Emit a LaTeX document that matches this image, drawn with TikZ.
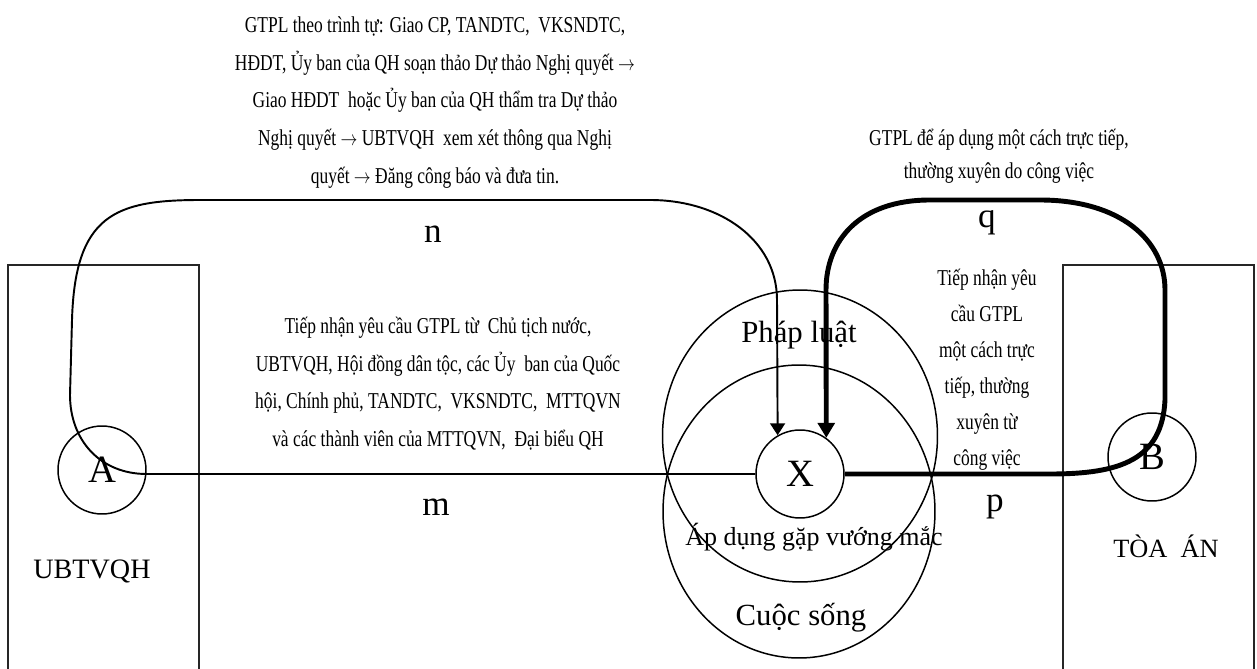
\documentclass[tikz,border=0pt]{standalone}
\usepackage{fontspec}
\setmainfont{Liberation Serif}
\newfontfamily\narrowfont[FakeStretch=0.77]{Liberation Serif}
\usetikzlibrary{shapes.geometric,arrows.meta}
\newcommand\notestrut{\rule{0pt}{12.9pt}}
\newcommand\nextstep{\scalebox{0.8}[1]{$\rightarrow$}}
\tikzset{
  ring/.style={circle, draw, line width=0.85pt, minimum size=1.76cm, inner sep=0pt,
    font=\fontsize{22}{24}\selectfont},
  oval/.style={ellipse, draw, line width=0.85pt, inner sep=0pt},
  frame/.style={draw=black!85, line width=1pt},
  link/.style={line width=1.1pt, -{Triangle[length=6.8pt,width=8.5pt]}},
  boldlink/.style={line width=2.8pt, -{Triangle[length=8.5pt,width=9.5pt]}},
  note/.style={align=center, anchor=north, inner sep=0pt,
    font=\narrowfont\fontsize{12.9}{21.5}\selectfont},
  word/.style={anchor=base, inner sep=0pt},
}
\begin{document}
\begin{tikzpicture}[x=0.02cm, y=-0.02cm]
\useasboundingbox (0,0) rectangle (1257,669);

% the two institutions
\draw[frame] (8,672) -- (8,265) -- (199,265) -- (199,672);
\draw[frame] (1063,672) -- (1063,265) -- (1254,265) -- (1254,672);
\node[word, font=\fontsize{16}{18}\selectfont] (ubt) at (92,578) {UBTVQH};
\node[word, font=\fontsize{15}{18}\selectfont] (toa) at (1166,557) {TÒA\ \ ÁN};

% law and life
\node[oval, minimum width=5.5cm, minimum height=5.84cm] (law) at (800,436) {};
\node[oval, minimum width=5.44cm, minimum height=5.86cm] (life) at (799,511.5) {};
\node[word, font=\fontsize{17.5}{20}\selectfont] (lawtxt) at (799,342) {Pháp luật};
\node[word, font=\fontsize{17.5}{20}\selectfont] (lifetxt) at (801,625) {Cuộc sống};
\node[word, font=\fontsize{14.8}{17}\selectfont] (snag) at (814,545) {Áp dụng gặp vướng mắc};

% actors
\node[ring] (A) at (102,470) {A};
\node[ring] (B) at (1152,457) {B};
\node[ring] (X) at (800,474) {X};

% route m / n from the standing committee
\draw[link] (X.west) -- (X.west -| A.east)
  .. controls (100,474) and (70,440) .. (70,395)
  -- (72,320)
  .. controls (75,215) and (115,200) .. (200,200)
  -- (650,200)
  .. controls (720,200) and (777,240) .. (777,300)
  -- (X.120);

% route p / q from the court
\coordinate (pq) at (1050,474);
\draw[boldlink] (X.east) -- (pq)
  .. controls (1120,474) and (1162,460) .. (1165,400)
  -- (1165,290)
  .. controls (1165,240) and (1120,200) .. (1040,200)
  -- (930,200)
  .. controls (860,200) and (826,240) .. (826,290)
  -- (X.54);

% route letters
\node[word, font=\fontsize{20}{22}\selectfont] (n) at (433,242) {n};
\node[word, font=\fontsize{20}{22}\selectfont] (m) at (436,515) {m};
\node[word, font=\fontsize{20}{22}\selectfont] (q) at (987,227) {q};
\node[word, font=\fontsize{20}{22}\selectfont] (p) at (995,511) {p};

% explanations
\node[note] (ntxt) at (435,9.3) {\notestrut GTPL theo trình tự: Giao CP, TANDTC,\ \ VKSNDTC,\\
  HĐDT, Ủy ban của QH soạn thảo Dự thảo Nghị quyết \nextstep\\
  Giao HĐDT\ \ hoặc Ủy ban của QH thẩm tra Dự thảo\\
  Nghị quyết \nextstep\ UBTVQH\ \ xem xét thông qua Nghị\\
  quyết \nextstep\ Đăng công báo và đưa tin.};
\node[note] (mtxt) at (438,310.3) {\notestrut Tiếp nhận yêu cầu GTPL từ\ \ Chủ tịch nước,\\
  UBTVQH,\ Hội đồng dân tộc, các Ủy\ \ ban của Quốc\\
  hội, Chính phủ, TANDTC,\ \ VKSNDTC,\ \ MTTQVN\\
  và các thành viên của MTTQVN,\ \ Đại biểu QH};
\node[note, font=\narrowfont\fontsize{12.9}{18.8}\selectfont] (qtxt) at (999,122.3)
  {\notestrut GTPL để áp dụng một cách trực tiếp,\\ thường xuyên do công việc};
\node[note, font=\narrowfont\fontsize{12.9}{20.5}\selectfont] (ptxt) at (987,262.3)
  {\notestrut Tiếp nhận yêu\\ cầu GTPL\\ một cách trực\\ tiếp, thường\\ xuyên từ\\ công việc};
\end{tikzpicture}
\end{document}
